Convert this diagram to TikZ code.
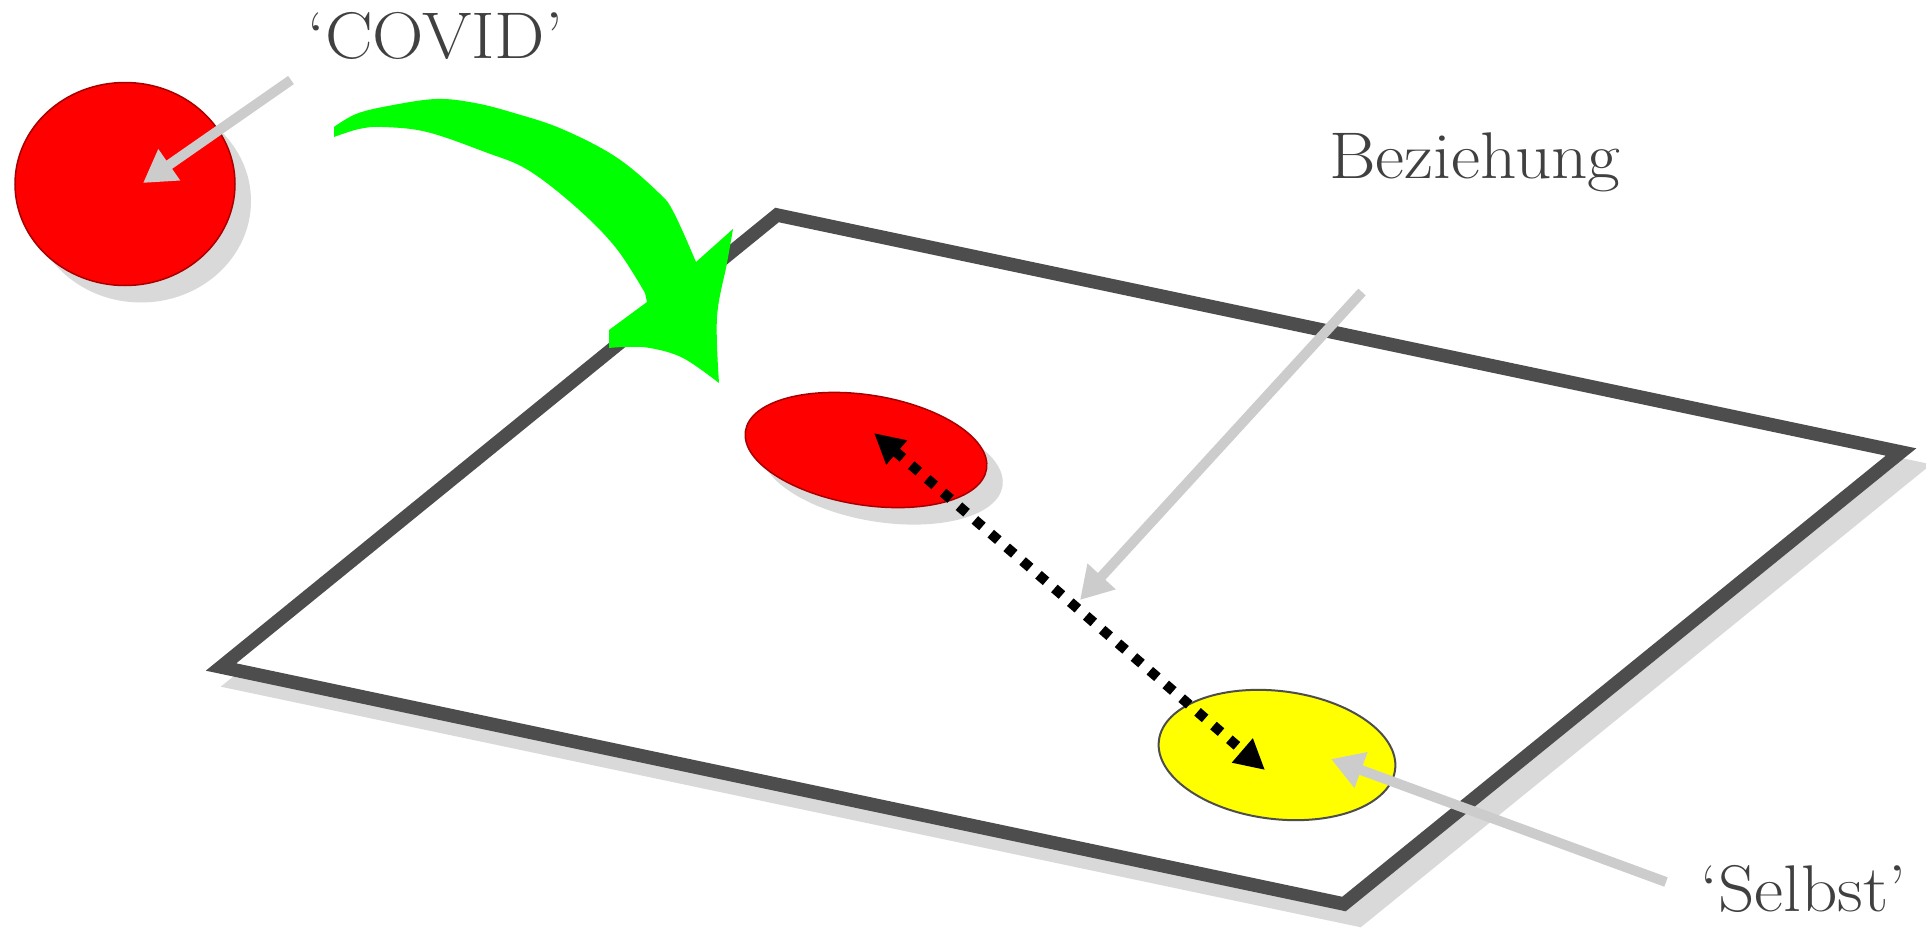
\documentclass[tikz,border=0pt]{standalone}
\usepackage{fontspec}
\usetikzlibrary{arrows.meta,shapes.geometric}
\definecolor{frame}{HTML}{4D4D4D}
\definecolor{shadowgray}{HTML}{D9D9D9}
\definecolor{pointer}{HTML}{CCCCCC}
\definecolor{covidred}{HTML}{FF0000}
\definecolor{redline}{HTML}{A80000}
\definecolor{selfyellow}{HTML}{FFFF00}
\definecolor{bright}{HTML}{00FF00}
\definecolor{txt}{HTML}{404040}
\newcommand{\widetext}[1]{\scalebox{1.08}[1]{#1}}
\begin{document}
\begin{tikzpicture}[x=1pt,y=-1pt,
  plate/.style={line width=13.5pt, miter limit=10},
  blob/.style={ellipse, inner sep=0pt, outer sep=0pt},
  pointerarrow/.style={draw=pointer, line width=10pt, -{Triangle[length=32pt,width=36pt]}},
  relarrow/.style={draw=black, line width=10pt, dash pattern=on 10pt off 11pt,
     {Triangle[length=30pt,width=30pt]}-{Triangle[length=30pt,width=30pt]}},
  label/.style={inner sep=0pt, anchor=base west, text=txt, font=\fontsize{66}{70}\selectfont}
]
\useasboundingbox (0,0) rectangle (1926,929);
% plate shadow and plate
\draw[plate, draw=shadowgray, fill=shadowgray, shift={(15,16)}]
  (777,215) -- (1901,452) -- (1344,904) -- (221,667) -- cycle;
\draw[plate, draw=frame, fill=white]
  (777,215) -- (1901,452) -- (1344,904) -- (221,667) -- cycle;
% big covid circle
\node[blob, fill=shadowgray, minimum width=220pt, minimum height=203pt] (covidshadow) at (141,201) {};
\node[blob, draw=redline, fill=covidred, line width=1.5pt, minimum width=220pt, minimum height=203pt] (covid) at (125,184) {};
% red ellipse on plate
\node[blob, fill=shadowgray, minimum width=244pt, minimum height=110pt, rotate=-9] (redshadow) at (882,467) {};
\node[blob, draw=redline, fill=covidred, line width=1.5pt, minimum width=244pt, minimum height=110pt, rotate=-9] (red) at (866,450) {};
% yellow ellipse
\node[blob, draw=frame, fill=selfyellow, line width=2pt, minimum width=238pt, minimum height=128pt, rotate=-7] (self) at (1277,755) {};
% relation dotted arrow
\coordinate (redtip) at (874,433);
\coordinate (selftip) at (1265,770);
\draw[relarrow] (redtip) -- (selftip);
% green arrow
\fill[bright] plot[smooth, tension=0.6] coordinates {(334,127) (356,114) (388,106) (436,99) (475,103) (514,113) (562,129) (616,157) (659,193) (674,213) (696,262)}
  -- (733,229)
  -- plot[smooth, tension=0.6] coordinates {(733,229) (727,263) (717,317) (719,383)}
  -- plot[smooth, tension=0.6] coordinates {(719,383) (683,358) (650,348) (625,347) (609,348)}
  -- (609,330) -- (647,302)
  -- plot[smooth, tension=0.6] coordinates {(645,293) (616,248) (577,208) (528,170) (485,152) (427,132) (383,127) (359,129) (334,137)}
  -- cycle;
% labels
\node[label] (covidlabel) at (307,58) {\widetext{‘COVID’}};
\node[label] (bezlabel) at (1329,178) {\widetext{Beziehung}};
\node[label] (selbstlabel) at (1700,911) {\widetext{‘Selbst’}};
% grey pointers
\coordinate (covidstart) at (291,80);
\coordinate (covidtip) at (143,183);
\coordinate (bezstart) at (1362,292);
\coordinate (beztip) at (1080,600);
\coordinate (selbststart) at (1666,882);
\coordinate (selbsttip) at (1331,759);
\draw[pointerarrow] (covidstart) -- (covidtip);
\draw[pointerarrow] (bezstart) -- (beztip);
\draw[pointerarrow] (selbststart) -- (selbsttip);
\end{tikzpicture}
\end{document}
